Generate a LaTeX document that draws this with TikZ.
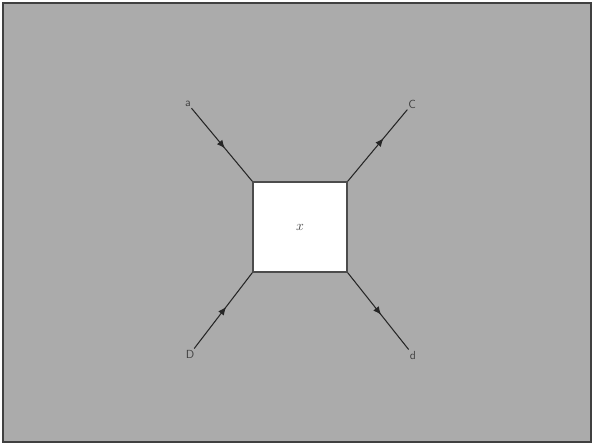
\documentclass[tikz,border=0pt]{standalone}
\usetikzlibrary{decorations.markings,arrows.meta}

\tikzset{
  midarrow/.style={decoration={markings,
      mark=at position #1 with {\arrow{Latex[length=7pt,width=6pt]}}},
    postaction={decorate}},
  lbl/.style={inner sep=1pt,font=\sffamily,text=black!75},
  wire/.style={black!85,line width=0.9pt}
}

\begin{document}
\begin{tikzpicture}[x=0.03cm,y=-0.03cm]
  \useasboundingbox (0,0) rectangle (594,445);
  \fill[black!33] (3,3) rectangle (591,442);
  \draw[black!75,line width=1.2pt] (3,3) rectangle (591,442);
  % centre box
  \node[fill=white,draw=black!70,line width=1.2pt,minimum width=94*0.03cm,
    minimum height=90*0.03cm,inner sep=0pt] (box) at (300,227) {};
  \node[lbl,font=\large] (x) at (box) {$x$};
  % ends
  \node[lbl] (a) at (188,104) {a};
  \node[lbl] (c) at (412,104) {C};
  \node[lbl] (dl) at (190,354) {D};
  \node[lbl] (dr) at (413,355) {d};
  \draw[wire,midarrow=0.55] (a) -- (box.north west);
  \draw[wire,midarrow=0.6] (box.north east) -- (c);
  \draw[wire,midarrow=0.55] (dl) -- (box.south west);
  \draw[wire,midarrow=0.55] (box.south east) -- (dr);
\end{tikzpicture}
\end{document}
